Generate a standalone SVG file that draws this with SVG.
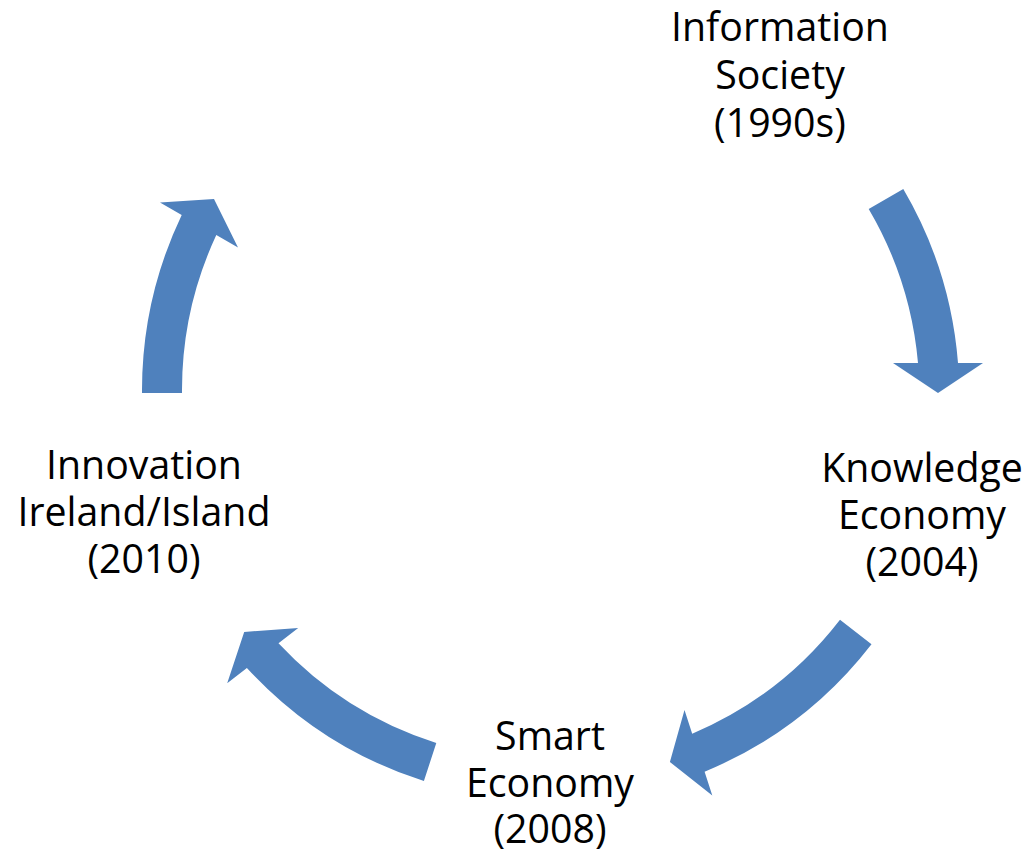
<svg xmlns="http://www.w3.org/2000/svg" width="1032" height="853" viewBox="0 0 1032 853">
<style>
.arrow{fill:#4F81BD;stroke:none}
.label{font-family:"Open Sans","Liberation Sans",sans-serif;font-size:39.3px;fill:#000;text-anchor:middle}
</style>
<rect width="1032" height="853" fill="#fff"/>
<g id="connectors">
<path class="arrow" d="M903.3,189 A408,408 0 0 1 958,363 L983,363 L938,393 L893,363 L918,363 A368,368 0 0 0 868.7,209 Z"/>
<path class="arrow" d="M871.5,644.2 A408,408 0 0 1 704.6,771.7 L712.3,795.5 L669.9,762 L684.5,709.9 L692.2,733.7 A368,368 0 0 0 840,619.7 Z"/>
<path class="arrow" d="M423.9,781 A408,408 0 0 1 246.9,667.9 L227.2,683.3 L244.2,632 L298.2,627.9 L278.5,643.3 A368,368 0 0 0 436.3,743 Z"/>
<path class="arrow" d="M142,393 A408,408 0 0 1 181.7,215 L160,202.5 L214,199 L238,247.5 L216.3,235 A368,368 0 0 0 182,393 Z"/>
</g>
<g id="node-information">
<text class="label" x="780" y="41">Information<tspan x="780" dy="48">Society</tspan><tspan x="780" dy="48">(1990s)</tspan></text>
</g>
<g id="node-knowledge">
<text class="label" x="922" y="482">Knowledge<tspan x="922" dy="47">Economy</tspan><tspan x="922" dy="47">(2004)</tspan></text>
</g>
<g id="node-smart">
<text class="label" x="550" y="750">Smart<tspan x="550" dy="47">Economy</tspan><tspan x="550" dy="46">(2008)</tspan></text>
</g>
<g id="node-innovation">
<text class="label" x="144" y="479">Innovation<tspan x="144" dy="47">Ireland/Island</tspan><tspan x="144" dy="47">(2010)</tspan></text>
</g>
</svg>
